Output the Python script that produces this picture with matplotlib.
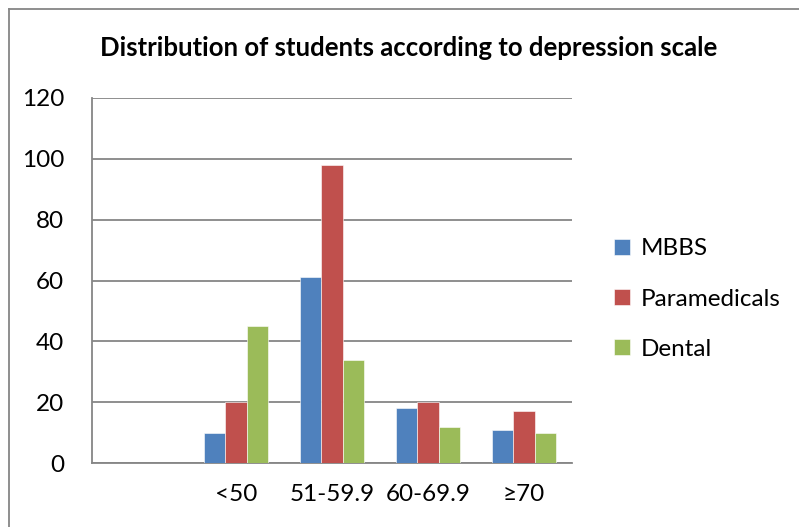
import matplotlib
matplotlib.use("Agg")
import matplotlib.pyplot as plt
import numpy as np
from matplotlib.lines import Line2D

plt.rcParams['font.family'] = ['Lato', 'DejaVu Sans']

categories = ["", "<50", "51-59.9", "60-69.9", "≥70"]
series_names = ["MBBS", "Paramedicals", "Dental"]
mbbs = [0, 10, 61, 18, 11]
paramedicals = [0, 20, 98, 20, 17]
dental = [0, 45, 34, 12, 10]
colors = ["#4F81BD", "#C0504D", "#9BBB59"]
yticks = [0, 20, 40, 60, 80, 100, 120]

fig = plt.figure(figsize=(7.99, 5.27), dpi=100)
ax = fig.add_axes([92/799, 1-463/527, (572-92)/799, (463-98)/527])

x = np.arange(len(categories))
w = 0.22
for i, (vals, name, c) in enumerate(zip([mbbs, paramedicals, dental], series_names, colors)):
    ax.bar(x + (i-1)*w, vals, width=w, color=c, label=name, zorder=3,
           edgecolor='white', linewidth=0.4)

fs = 17.5
ax.set_xlim(-0.5, len(categories)-0.5)
ax.set_ylim(0, 120)
ax.set_yticks(yticks)
ax.set_yticklabels([str(v) for v in yticks], fontsize=fs)
ax.set_xticks(x)
ax.set_xticklabels(categories, fontsize=fs)
ax.tick_params(axis='both', length=0)
ax.tick_params(axis='y', pad=20)
ax.tick_params(axis='x', pad=15)
ax.yaxis.grid(True, color='#868686', linewidth=1.3, zorder=0)
for s in ['top', 'right']:
    ax.spines[s].set_visible(False)
for s in ['left', 'bottom']:
    ax.spines[s].set_color('#868686')
    ax.spines[s].set_linewidth(1.3)

fig.text(409/799, 1-48/527, "Distribution of students according to depression scale",
         ha='center', va='center', fontsize=18.5, fontweight='bold')

leg = fig.legend(loc='center left', bbox_to_anchor=(614/799, 1-299/527), frameon=False,
                 fontsize=fs, handlelength=0.65, handleheight=0.65, labelspacing=1.2,
                 handletextpad=0.45, borderaxespad=0, borderpad=0)

# outer frame (top and left edges)
fig.add_artist(Line2D([9/799, 1], [1-9/527, 1-9/527], color='#868686', linewidth=1.3,
                      transform=fig.transFigure))
fig.add_artist(Line2D([9/799, 9/799], [0, 1-9/527], color='#868686', linewidth=1.3,
                      transform=fig.transFigure))

fig.savefig("out.png", dpi=100)
